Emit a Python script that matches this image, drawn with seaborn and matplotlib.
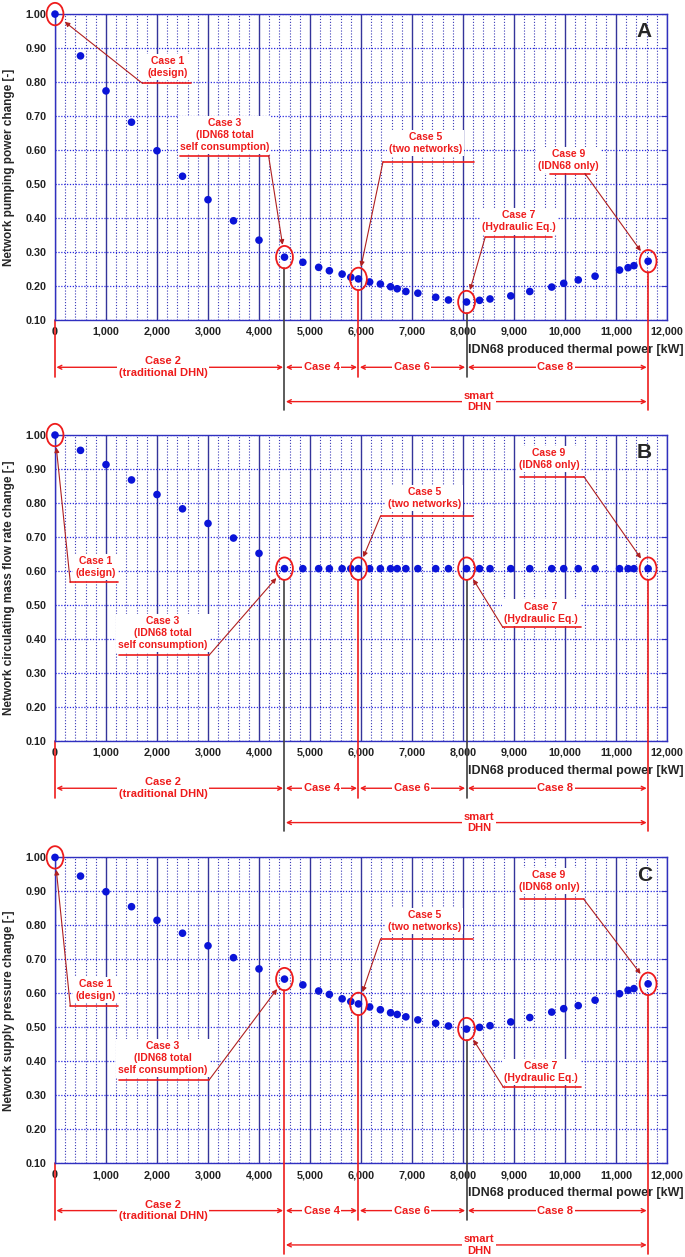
import numpy as np
import pandas as pd
import matplotlib
matplotlib.use('Agg')
import matplotlib.pyplot as plt
import seaborn as sns
from matplotlib.patches import Ellipse
from matplotlib.ticker import FuncFormatter, MultipleLocator

# Datos
power_kw = [0, 500, 1000, 1500, 2000, 2500, 3000, 3500, 4000, 4500,
            4860, 5170, 5380, 5630, 5800, 5950, 6170, 6380, 6580, 6710,
            6880, 7115, 7465, 7715, 8070, 8325, 8530, 8937, 9310, 9740,
            9975, 10260, 10590, 11070, 11237, 11352, 11630]

pumping_power = [1.000, 0.877, 0.774, 0.682, 0.598, 0.523, 0.454, 0.392, 0.335, 0.285,
                 0.270, 0.255, 0.245, 0.235, 0.226, 0.221, 0.212, 0.206, 0.198, 0.192,
                 0.184, 0.179, 0.167, 0.159, 0.153, 0.158, 0.162, 0.171, 0.184, 0.197,
                 0.208, 0.218, 0.229, 0.247, 0.254, 0.260, 0.273]

mass_flow = [1.000, 0.955, 0.913, 0.868, 0.825, 0.783, 0.740, 0.697, 0.652, 0.607,
             0.607, 0.607, 0.607, 0.607, 0.607, 0.607, 0.607, 0.607, 0.607, 0.607,
             0.607, 0.607, 0.607, 0.607, 0.607, 0.607, 0.607, 0.607, 0.607, 0.607,
             0.607, 0.607, 0.607, 0.607, 0.607, 0.607, 0.607]

supply_pressure = [1.000, 0.945, 0.899, 0.855, 0.815, 0.777, 0.740, 0.705, 0.672, 0.642,
                   0.625, 0.607, 0.597, 0.584, 0.576, 0.569, 0.560, 0.552, 0.543, 0.538,
                   0.531, 0.522, 0.512, 0.504, 0.495, 0.500, 0.505, 0.516, 0.529, 0.545,
                   0.555, 0.564, 0.580, 0.599, 0.609, 0.614, 0.628]

y_labels = ['Network pumping power change [-]',
            'Network circulating mass flow rate change [-]',
            'Network supply pressure change [-]']
panel_letters = ['A', 'B', 'C']
x_label = 'IDN68 produced thermal power [kW]'

# indices de los casos marcados
case_names = ['Case 1', 'Case 3', 'Case 5', 'Case 7', 'Case 9']
case_idx = [0, 9, 15, 24, 36]
case_texts = ['Case 1\n(design)', 'Case 3\n(IDN68 total\nself consumption)',
              'Case 5\n(two networks)', 'Case 7\n(Hydraulic Eq.)', 'Case 9\n(IDN68 only)']

range_labels = ['Case 2\n(traditional DHN)', 'Case 4', 'Case 6', 'Case 8']
range_label_x = [2117, 5227, 6990, 9811]
smart_label = 'smart\nDHN'

# posiciones de las notas: (texto x, texto y, linea x0, x1, y, inicio flecha x)
notes = {
    'A': [(2205, 0.845, 1716, 2661, 0.796, 1716),
          (3327, 0.644, 2446, 4188, 0.583, 4188),
          (7260, 0.620, 6432, 8219, 0.566, 6432),
          (9100, 0.390, 8434, 9740, 0.343, 8434),
          (10065, 0.570, 9706, 10489, 0.531, 10391)],
    'B': [(797, 0.613, 300, 1243, 0.567, 300),
          (2117, 0.417, 1260, 3025, 0.353, 3025),
          (7241, 0.815, 6384, 8200, 0.762, 6384),
          (9529, 0.478, 8783, 10308, 0.434, 8783),
          (9683, 0.930, 9126, 10368, 0.878, 10368)],
    'C': [(797, 0.610, 300, 1243, 0.563, 300),
          (2117, 0.409, 1260, 3025, 0.346, 3025),
          (7241, 0.812, 6384, 8200, 0.760, 6384),
          (9529, 0.368, 8783, 10308, 0.326, 8783),
          (9683, 0.931, 9126, 10368, 0.877, 10368)],
}
# color de las lineas verticales en 4500 / 5950 / 8070 / 11630
vline_colors = {
    'A': ['#404040', '#ee1c1c', '#404040', '#ee1c1c'],
    'B': ['#404040', '#ee1c1c', '#404040', '#ee1c1c'],
    'C': ['#ee1c1c', '#ee1c1c', '#404040', '#ee1c1c'],
}

sns.set_style('white')
plt.rcParams['font.family'] = ['Liberation Sans', 'DejaVu Sans']
narrow = ['Liberation Sans Narrow', 'Liberation Sans', 'DejaVu Sans']

RED = '#ee1c1c'
ARROW = '#b02020'
BLUE = '#3030c0'

fig = plt.figure(figsize=(6.85, 12.57), dpi=100)
bottoms = [0.7454, 0.4105, 0.0745]
series = [pumping_power, mass_flow, supply_pressure]

y_case = -0.039
y_smart = -0.140
y_short = -0.0676
y_long = -0.166

for k in range(3):
    letter = panel_letters[k]
    ax = fig.add_axes([0.0803, bottoms[k], 0.8934, 0.2434])
    df = pd.DataFrame({'power': power_kw, 'value': series[k]})

    ax.set_xlim(0, 12000)
    ax.set_ylim(0.10, 1.00)
    ax.xaxis.set_major_locator(MultipleLocator(1000))
    ax.xaxis.set_minor_locator(MultipleLocator(200))
    ax.yaxis.set_major_locator(MultipleLocator(0.1))
    ax.xaxis.set_major_formatter(FuncFormatter(lambda v, p: '0' if v == 0 else f'{v:,.0f}'))
    ax.yaxis.set_major_formatter(FuncFormatter(lambda v, p: f'{v:.2f}'))
    ax.set_axisbelow(True)
    ax.grid(which='major', axis='x', color='#34349a', lw=1.0, ls='-')
    ax.grid(which='minor', axis='x', color='#3a3ab8', lw=0.8, ls=(0, (1, 1.6)))
    ax.grid(which='major', axis='y', color='#2a2ae0', lw=0.9, ls=(0, (1, 1.3)))
    for sp in ax.spines.values():
        sp.set_color(BLUE)
        sp.set_linewidth(1.0)
    ax.tick_params(axis='x', which='both', length=0, pad=5, labelsize=7.8)
    ax.tick_params(axis='y', which='major', length=0, pad=6, labelsize=7.8)
    ax.tick_params(axis='y', which='major', right=True, direction='in', length=4, color=BLUE)
    for lab in ax.get_xticklabels() + ax.get_yticklabels():
        lab.set_fontweight('bold')
        lab.set_color('#222222')

    sns.scatterplot(data=df, x='power', y='value', ax=ax, color='#0a14d8', s=30,
                    edgecolor='none', zorder=6, clip_on=False, legend=False)

    ax.set_xlabel('')
    ax.set_ylabel(y_labels[k], fontsize=8.5, fontweight='bold')
    ax.yaxis.set_label_coords(-0.066, 0.5)
    ax.text(1.027, -0.098, x_label, transform=ax.transAxes, ha='right', va='center',
            fontsize=9, fontweight='bold')
    ax.text(11560, 0.948, letter, ha='center', va='center', fontsize=15, fontweight='bold')

    # circulos y notas de los casos
    for j, idx in enumerate(case_idx):
        px, py = power_kw[idx], series[k][idx]
        ax.add_patch(Ellipse((px, py), 330, 0.066, fill=False, ec=RED, lw=1.3,
                             clip_on=False, zorder=7))
        tx, ty, ux0, ux1, uy, sx = notes[letter][j]
        ax.text(tx, ty, case_texts[j], ha='center', va='center', color=RED,
                fontsize=7.5, fontweight='bold', family=narrow, linespacing=1.25,
                bbox=dict(facecolor='white', edgecolor='none', pad=1.5), zorder=4)
        ax.plot([ux0, ux1], [uy, uy], color=RED, lw=1.2, zorder=4)
        ax.annotate('', xy=(px, py), xytext=(sx, uy),
                    arrowprops=dict(arrowstyle='-|>', color=ARROW, lw=0.8,
                                    shrinkA=0, shrinkB=9, mutation_scale=7),
                    annotation_clip=False, zorder=8)

    # lineas verticales de los limites
    ax.plot([0, 0], [0.10, y_short], color=RED, lw=1.2, clip_on=False)
    ends = [y_long, y_short, y_short, y_long]
    for j, idx in enumerate(case_idx[1:]):
        px, py = power_kw[idx], series[k][idx]
        ax.plot([px, px], [py - 0.033, ends[j]], color=vline_colors[letter][j],
                lw=1.2, clip_on=False, zorder=3)

    # flechas de los rangos
    bounds = [power_kw[i] for i in case_idx]
    for j in range(4):
        ax.annotate('', xy=(bounds[j + 1], y_case), xytext=(bounds[j], y_case),
                    arrowprops=dict(arrowstyle='<->', color=RED, lw=1.0,
                                    shrinkA=1, shrinkB=1, mutation_scale=7),
                    annotation_clip=False)
        ax.text(range_label_x[j], y_case, range_labels[j], ha='center', va='center',
                color=RED, fontsize=8, fontweight='bold', family=narrow,
                linespacing=1.2, clip_on=False,
                bbox=dict(facecolor='white', edgecolor='none', pad=1.0))
    ax.annotate('', xy=(bounds[4], y_smart), xytext=(bounds[1], y_smart),
                arrowprops=dict(arrowstyle='<->', color=RED, lw=1.0,
                                shrinkA=1, shrinkB=1, mutation_scale=7),
                annotation_clip=False)
    ax.text(8312, y_smart, smart_label, ha='center', va='center', color=RED,
            fontsize=8, fontweight='bold', family=narrow, linespacing=1.2,
            clip_on=False, bbox=dict(facecolor='white', edgecolor='none', pad=1.0))

fig.savefig('out.png', dpi=100)
